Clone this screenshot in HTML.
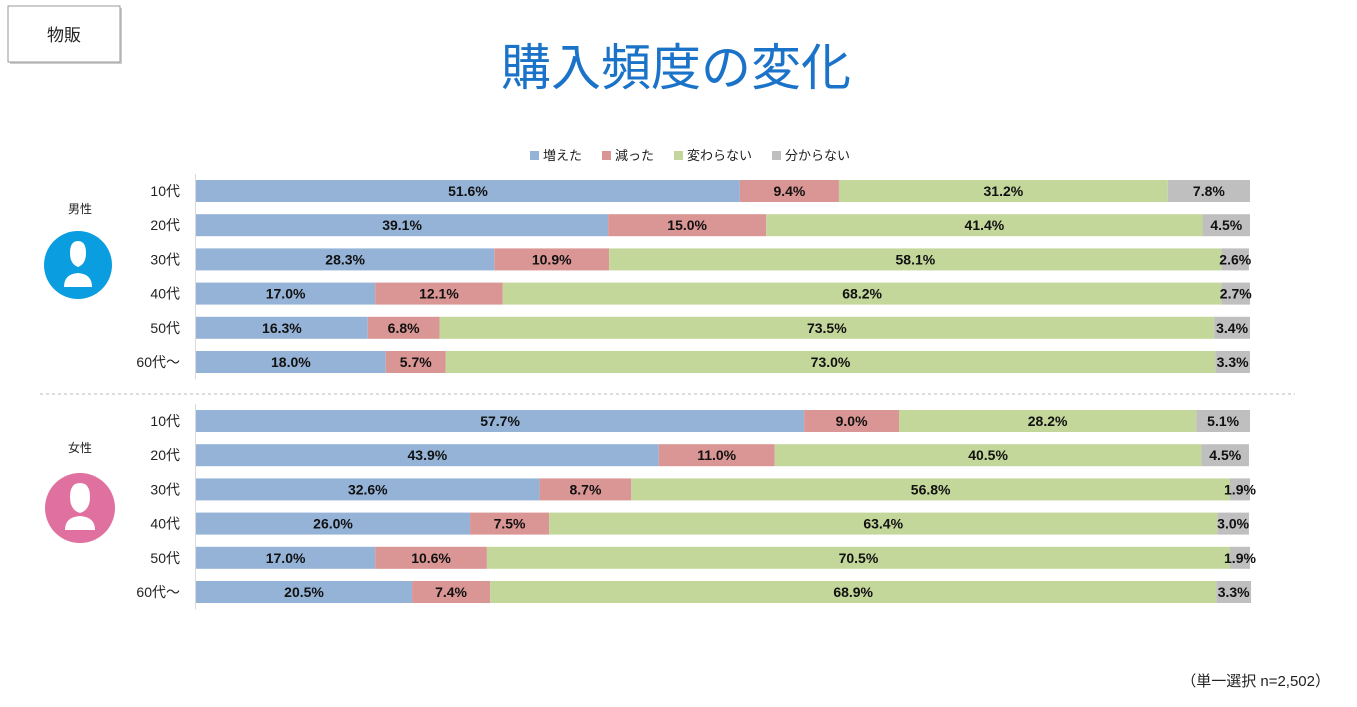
<!DOCTYPE html>
<html><head><meta charset="utf-8"><style>
body{margin:0;width:1357px;height:707px;background:#fff;overflow:hidden;font-family:"Liberation Sans","Noto Sans CJK JP",sans-serif;}
svg{position:absolute;left:0;top:0}
</style></head><body>
<svg id="c" width="1357" height="707" xmlns="http://www.w3.org/2000/svg" font-family="Liberation Sans, Noto Sans CJK JP, sans-serif">
<g>
<rect x="10" y="8" width="112" height="56" fill="#aaa" opacity="0.6"/>
<rect x="8" y="6" width="112" height="56" fill="#fff" stroke="#999" stroke-width="1"/>
<text x="64" y="41" font-size="17" text-anchor="middle" fill="#222">物販</text>
</g>
<text x="676" y="85" font-size="50" text-anchor="middle" fill="#1a73c8">購入頻度の変化</text>
<line x1="40" y1="394" x2="1295" y2="394" stroke="#bbb" stroke-dasharray="3,3"/>
<text x="80" y="213" font-size="12" text-anchor="middle" fill="#222">男性</text>
<g>
<circle cx="78" cy="265" r="34" fill="#0a9de0"/>
<path d="M64 287 q0-13 14-14 q14 1 14 14 z M70 253 q0-12 8-12 q8 0 8 12 q0 11-8 14 q-8-3-8-14z" fill="#fff"/>
</g>
<text x="80" y="452" font-size="12" text-anchor="middle" fill="#222">女性</text>
<g>
<circle cx="80" cy="508" r="35" fill="#e0709f"/>
<path d="M65 530 q0-13 15-14 q15 1 15 14 z M70 497 q0-14 10-14 q10 0 10 14 q0 13-10 16 q-10-3-10-16z" fill="#fff"/>
</g>
<text x="1330" y="686" font-size="15" text-anchor="end" fill="#222">（単一選択 n=2,502）</text>
<g id="plot"></g>
</svg>
<script>
const ages=["10代","20代","30代","40代","50代","60代～"];
const seriesNames=["増えた","減った","変わらない","分からない"];
const maleIncreased=[51.6,39.1,28.3,17.0,16.3,18.0];
const maleDecreased=[9.4,15.0,10.9,12.1,6.8,5.7];
const maleUnchanged=[31.2,41.4,58.1,68.2,73.5,73.0];
const maleUnknown=[7.8,4.5,2.6,2.7,3.4,3.3];
const femaleIncreased=[57.7,43.9,32.6,26.0,17.0,20.5];
const femaleDecreased=[9.0,11.0,8.7,7.5,10.6,7.4];
const femaleUnchanged=[28.2,40.5,56.8,63.4,70.5,68.9];
const femaleUnknown=[5.1,4.5,1.9,3.0,1.9,3.3];
const colors=["#95b3d7","#da9694","#c4d79b","#bfbfbf"];
const NS="http://www.w3.org/2000/svg";
const plot=document.getElementById('plot');
const x0=196,x1=1250;
const xs=v=>x0+(x1-x0)*v/100;
function el(t,a){const e=document.createElementNS(NS,t);for(const k in a)e.setAttribute(k,a[k]);plot.appendChild(e);return e;}
let lx=530;
seriesNames.forEach((n,i)=>{
  const r=el('rect',{x:lx,y:151,width:9,height:9,fill:colors[i]});
  
  
  const t=el('text',{x:lx+13,y:160,'font-size':13,fill:'#222'});t.textContent=n;
  
  
  lx+=13+n.length*13+20;
});
function group(series,top,name){
  const ax=el('line',{x1:x0-0.5,y1:top-6,x2:x0-0.5,y2:top+6*34.2-6,stroke:'#d9d9d9'});
  
  
  ages.forEach((a,j)=>{
    const y=top+j*34.2;
    const lt=el('text',{x:180,y:y+16,'font-size':14,'text-anchor':'end',fill:'#222'});lt.textContent=a;
    
    
    let cum=0;
    series.forEach((s,i)=>{
      const v=s[j];
      const r=el('rect',{x:xs(cum),y:y,width:xs(cum+v)-xs(cum),height:22,fill:colors[i]});
      
      
      const t=el('text',{x:(xs(cum)+xs(cum+v))/2,y:y+16,'font-size':14,'font-weight':'bold','text-anchor':'middle',fill:'#111'});
      t.textContent=v.toFixed(1)+'%';
      
      
      cum+=v;
    });
  });
}
group([maleIncreased,maleDecreased,maleUnchanged,maleUnknown],180,'male');
group([femaleIncreased,femaleDecreased,femaleUnchanged,femaleUnknown],410,'female');
</script>
</body></html>
